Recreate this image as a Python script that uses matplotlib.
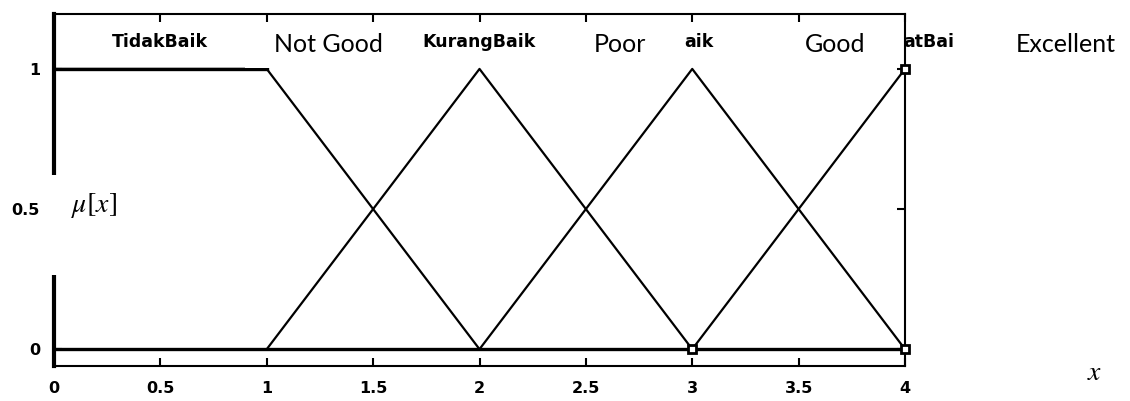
import numpy as np
import matplotlib.pyplot as plt
from matplotlib.patches import Rectangle

# membership functions on the universe 0..4
x_pts = [0, 1, 2, 3, 4]
tidak_baik = [1, 1, 0, 0, 0]
kurang_baik = [0, 0, 1, 0, 0]
baik = [0, 0, 0, 1, 0]
sangat_baik = [0, 0, 0, 0, 1]
# MF names as they remain visible under the English captions
mf_names = ['TidakBaik', 'KurangBaik', 'aik', 'atBai']
mf_label_x = [0.5, 2, 3.03, 4.11]
eng_names = ['Not Good', 'Poor', 'Good', 'Excellent']
x_ticks = [0, 0.5, 1, 1.5, 2, 2.5, 3, 3.5, 4]
y_ticks = [0, 0.5, 1]

W, H = 1130, 401
fig = plt.figure(figsize=(W / 100, H / 100), dpi=100)
ax = fig.add_axes([54 / W, 1 - 366 / H, 851 / W, 352 / H])

for ys in [tidak_baik, kurang_baik, baik, sangat_baik]:
    ax.plot(x_pts, ys, color='black', lw=1.6, zorder=3)
ax.axhline(0, color='black', lw=2.4, zorder=3)
ax.plot([0, 1], [1, 1], color='black', lw=2.4, zorder=3)

# selected-point markers
ax.plot([3, 4, 4], [0, 0, 1], ls='none', marker='s', ms=6, mfc='white',
        mec='black', mew=2, zorder=4, clip_on=False)

ax.set_xlim(0, 4)
ax.set_ylim(-0.06, 1.196)
ax.set_xticks(x_ticks)
ax.set_xticklabels(['0', '0.5', '1', '1.5', '2', '2.5', '3', '3.5', '4'])
ax.set_yticks(y_ticks)
ax.set_yticklabels(['0', '0.5', '1'])
ax.tick_params(direction='in', length=6, width=1.5, right=True,
               labelsize=11.5)
ax.tick_params(axis='x', top=True, pad=11)
ax.tick_params(axis='y', pad=10)
for lab in ax.get_xticklabels() + ax.get_yticklabels():
    lab.set_fontweight('bold')
for side in ['top', 'bottom', 'right']:
    ax.spines[side].set_linewidth(1.5)
ax.spines['left'].set_linewidth(3)

# original MF names
for name, xl in zip(mf_names, mf_label_x):
    ax.text(xl, 1.095, name, ha='center', va='center', fontsize=12.5,
            fontweight='bold', zorder=5, clip_on=False)


def fig_box(x0, y0, x1, y1):
    fig.patches.append(Rectangle((x0 / W, 1 - y1 / H), (x1 - x0) / W,
                                 (y1 - y0) / H, transform=fig.transFigure,
                                 facecolor='white', edgecolor='none',
                                 zorder=10))


# white boxes behind the "Not Good" caption and the axis label
fig_box(245, 22, 400, 68)
fig_box(48, 175, 130, 275)

eng_x = [328, 620, 835, 1066]
for name, px in zip(eng_names, eng_x):
    fig.text(px / W, 1 - 44 / H, name, ha='center', va='center',
             fontsize=18, family='Lato', zorder=11)

plt.rcParams['mathtext.fontset'] = 'stix'
fig.text(94 / W, 1 - 205 / H, r'$\mu\left[x\right]$', ha='center',
         va='center', fontsize=20, zorder=11)
fig.text(1095 / W, 1 - 372 / H, r'$x$', ha='center', va='center',
         fontsize=20, zorder=11)

fig.savefig('out.png', dpi=100)
